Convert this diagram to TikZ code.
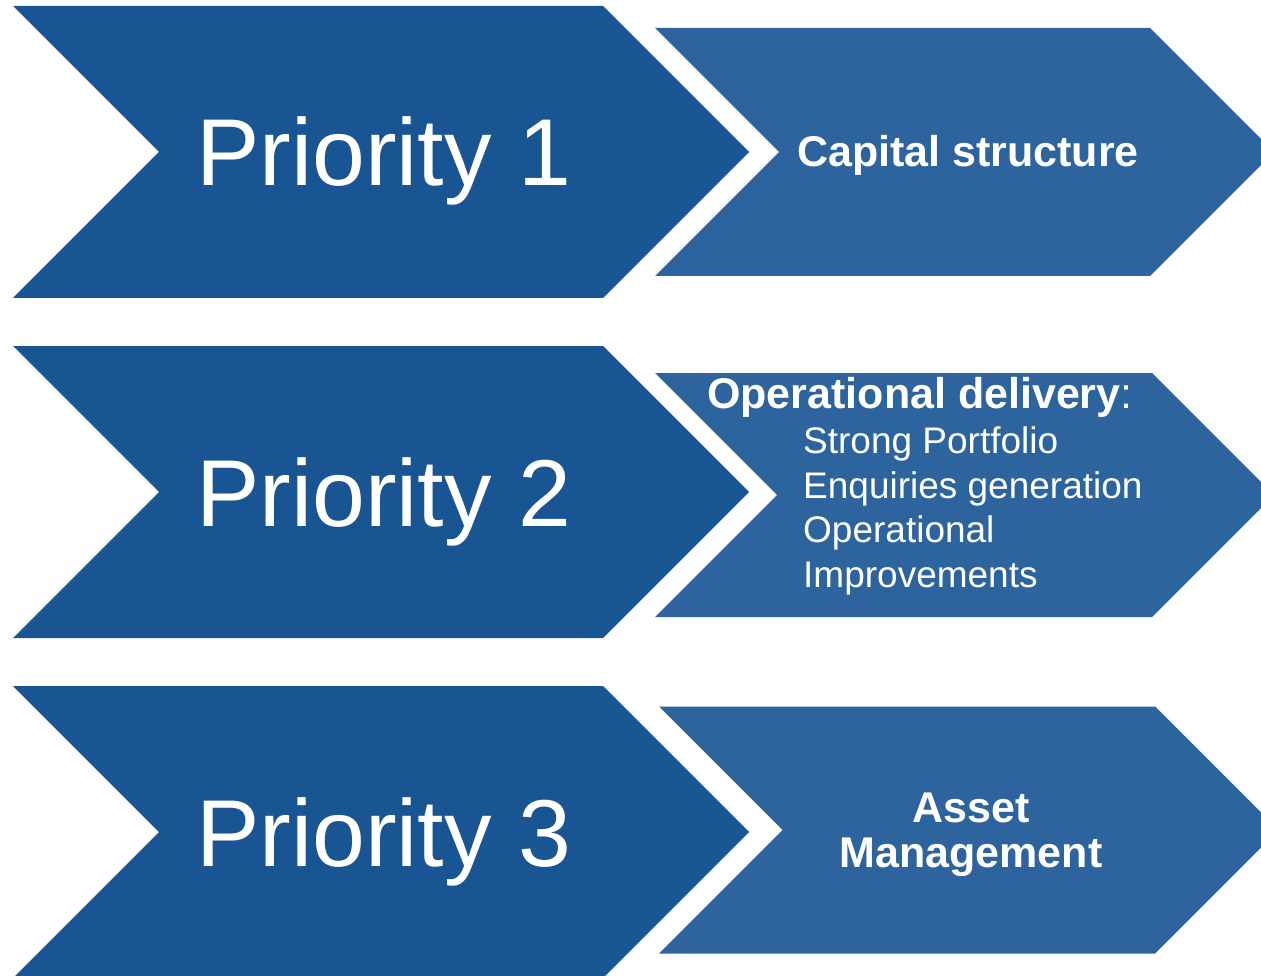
\documentclass[tikz,border=0pt]{standalone}
\usepackage{fontspec}
\setmainfont{Liberation Sans}
\usetikzlibrary{positioning}
\definecolor{prioblue}{HTML}{195593}
\definecolor{goalblue}{HTML}{2D649E}

\tikzset{
  prio/.style={text=white, inner sep=0pt, anchor=base west, font=\fontsize{95}{95}\selectfont},
  goal/.style={text=white, inner sep=0pt, anchor=base west, font=\bfseries\fontsize{43}{45}\selectfont},
  item/.style={text=white, inner sep=0pt, anchor=base west, font=\fontsize{37}{45}\selectfont},
}

% chevron: left x, centre y, flat length, half height, fill
\newcommand{\chevron}[5]{%
  \fill[#5] (#1,#2-#4) -- ++(#3,0) -- ++(#4,#4) -- ++(-#4,#4) -- ++(-#3,0) -- ++(#4,-#4) -- cycle;}

\begin{document}
\begin{tikzpicture}[x=1pt,y=-1pt]
\useasboundingbox (0,0) rectangle (1261,976);
\clip (0,0) rectangle (1261,976);

\chevron{13}{152}{590}{146}{prioblue}
\chevron{13}{492}{590}{146}{prioblue}
\chevron{13}{832}{590}{146}{prioblue}
\chevron{655}{152}{495}{124}{goalblue}
\chevron{655}{495}{497}{122}{goalblue}
\chevron{659}{830}{496}{123.5}{goalblue}

\node[prio] (p1) at (196,186) {Priority 1};
\node[prio] (p2) at (196,526) {Priority 2};
\node[prio] (p3) at (196,866) {Priority 3};

\node[goal] (cap) at (797,167) {Capital structure};

\node[goal] (ops) at (707,408) {Operational delivery\mdseries:};
\node[item] (strong) at (803,453) {Strong Portfolio};
\node[item] (enq) at (803,498) {Enquiries generation};
\node[item] (opimp) at (803,542) {Operational};
\node[item] (impr) at (803,587) {Improvements};

\node[goal, anchor=base] (asset) at (971,822) {Asset};
\node[goal, anchor=base] (mgmt) at (971,867) {Management};
%\node[goal, below=of asset] (mgmt) {Management};
\end{tikzpicture}
\end{document}
